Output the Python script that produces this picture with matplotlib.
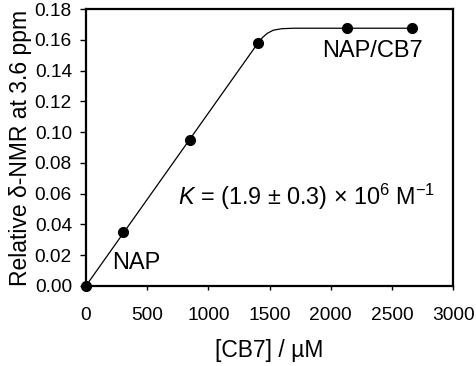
import matplotlib.pyplot as plt

plt.rcParams['font.family'] = ['Liberation Sans', 'DejaVu Sans']
plt.rcParams['mathtext.fontset'] = 'custom'
plt.rcParams['mathtext.rm'] = 'Liberation Sans'
plt.rcParams['mathtext.it'] = 'Liberation Sans:italic'

# measured points
cb7 = [0, 303, 850, 1406, 2134, 2666]
shift = [0.0, 0.0353, 0.0949, 0.158, 0.1676, 0.1676]

# fitted curve
fit_x = [0, 1406, 1440, 1480, 1530, 1600, 1700, 2666]
fit_y = [0.0, 0.158, 0.1613, 0.1642, 0.1663, 0.1673, 0.1676, 0.1676]

fig = plt.figure(figsize=(4.77, 3.66), dpi=100)
ax = fig.add_axes([0.180, 0.2186, 0.770, 0.7564])

ax.plot(fit_x, fit_y, color='black', lw=0.9)
ax.plot(cb7, shift, 'o', color='black', ms=7, clip_on=False, zorder=3)

ax.set_xlim(0, 3000)
ax.set_ylim(0, 0.18)
ax.set_xticks(range(0, 3001, 500))
ax.set_yticks([i * 0.02 for i in range(10)])
ax.set_yticklabels(['%.2f' % (i * 0.02) for i in range(10)])

for s in ax.spines.values():
    s.set_linewidth(1.6)

ax.tick_params(axis='y', direction='out', length=4, width=1, pad=6, labelsize=13.8)
ax.tick_params(axis='x', direction='out', length=3, width=1, pad=12, labelsize=13.8)

ax.set_xlabel('[CB7] / \u00b5M', fontsize=16.5, labelpad=11)
ax.set_ylabel('Relative \u03b4-NMR at 3.6 ppm', fontsize=16.5, labelpad=2)

ax.text(409, 0.015, 'NAP', fontsize=17, ha='center', va='center')
ax.text(2340, 0.153, 'NAP/CB7', fontsize=17, ha='center', va='center')
ax.text(752, 0.058, r'$K$ = (1.9 $\pm$ 0.3) $\times$ 10$^{6}$ M$^{-1}$',
        fontsize=16.8, ha='left', va='center')

fig.savefig('out.png', dpi=100)
